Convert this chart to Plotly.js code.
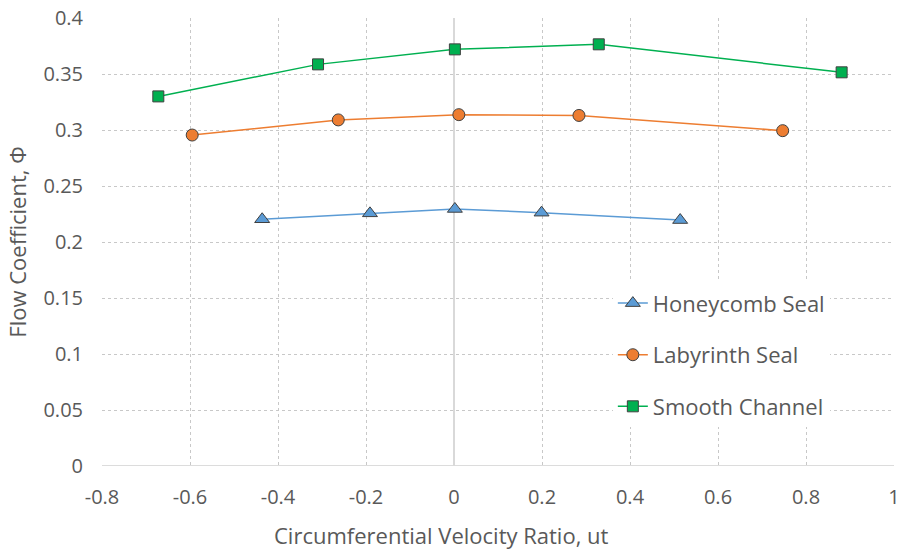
<!DOCTYPE html>
<html><head><meta charset="utf-8">
<script src="https://cdn.plot.ly/plotly-3.0.1.min.js"></script>
<style>html,body{margin:0;padding:0;background:#fff}#c{width:903px;height:549px}</style>
</head><body><div id="c"></div>
<script>
const honeyX = [-0.436, -0.191, 0.002, 0.199, 0.514];
const honeyY = [0.2203, 0.2256, 0.2295, 0.2262, 0.2196];
const labyX = [-0.595, -0.263, 0.011, 0.284, 0.747];
const labyY = [0.2955, 0.309, 0.3137, 0.313, 0.2994];
const smoothX = [-0.672, -0.309, 0.002, 0.329, 0.881];
const smoothY = [0.330, 0.3586, 0.372, 0.3765, 0.3515];
const seriesNames = ["Honeycomb Seal", "Labyrinth Seal", "Smooth Channel"];
const xTickVals = [-0.8, -0.6, -0.4, -0.2, 0, 0.2, 0.4, 0.6, 0.8, 1];
const xTickText = ["-0.8", "-0.6", "-0.4", "-0.2", "0", "0.2", "0.4", "0.6", "0.8", "1"];
const yTickVals = [0, 0.05, 0.1, 0.15, 0.2, 0.25, 0.3, 0.35, 0.4];
const yTickText = ["0", "0.05", "0.1", "0.15", "0.2", "0.25", "0.3", "0.35", "0.4"];
const xTitle = "Circumferential Velocity Ratio, ut";
const yTitle = "Flow Coefficient, Φ";

const FONT = "'Open Sans', sans-serif";
const GREY = '#595959';
const mk = (x, y, name, color, symbol, size) => ({
  x: x, y: y, name: name, type: 'scatter', mode: 'lines+markers',
  legendgroup: name,
  line: {color: color, width: 1.5},
  marker: {color: color, symbol: symbol, size: size, line: {color: '#404040', width: 1}}
});
const data = [
  mk(honeyX, honeyY, seriesNames[0], '#5b9bd5', 'triangle-up', 13),
  mk(labyX, labyY, seriesNames[1], '#ed7d31', 'circle', 12),
  mk(smoothX, smoothY, seriesNames[2], '#00b050', 'square', 11)
];
const axisCommon = {
  showgrid: true, gridcolor: '#c8c8c8', griddash: '3px,3px', gridwidth: 1,
  zeroline: false, showline: false, ticks: '', tickmode: 'array',
  tickfont: {family: FONT, size: 20, color: GREY}
};
const layout = {
  width: 903, height: 549,
  margin: {l: 102, r: 9, t: 18, b: 83},
  paper_bgcolor: '#fff', plot_bgcolor: '#fff',
  showlegend: true,
  legend: {x: 0.645, y: 0.41, xanchor: 'left', yanchor: 'top', bgcolor: '#fff',
    font: {family: FONT, size: 22, color: GREY}, tracegroupgap: 20, itemwidth: 30},
  xaxis: Object.assign({}, axisCommon, {
    range: [-0.8, 1], tickvals: xTickVals, ticktext: xTickText, ticklabelstandoff: 17,
    zeroline: true, zerolinecolor: '#d9d9d9', zerolinewidth: 1.5
  }),
  yaxis: Object.assign({}, axisCommon, {
    range: [0, 0.4], tickvals: yTickVals, ticktext: yTickText, ticklabelstandoff: 18,
    title: {text: yTitle, standoff: 10, font: {family: FONT, size: 22, color: GREY}}
  }),
  annotations: [{text: xTitle, xref: 'paper', yref: 'paper', x: 0.429, y: -0.154,
    xanchor: 'center', yanchor: 'middle', showarrow: false,
    font: {family: FONT, size: 22, color: GREY}}],
  shapes: [{type: 'line', xref: 'paper', yref: 'y', x0: 0, x1: 1, y0: 0, y1: 0,
    line: {color: '#d0d0d0', width: 1.5}, layer: 'below'}]
};
Plotly.newPlot('c', data, layout, {displayModeBar: false, staticPlot: true});
</script></body></html>
